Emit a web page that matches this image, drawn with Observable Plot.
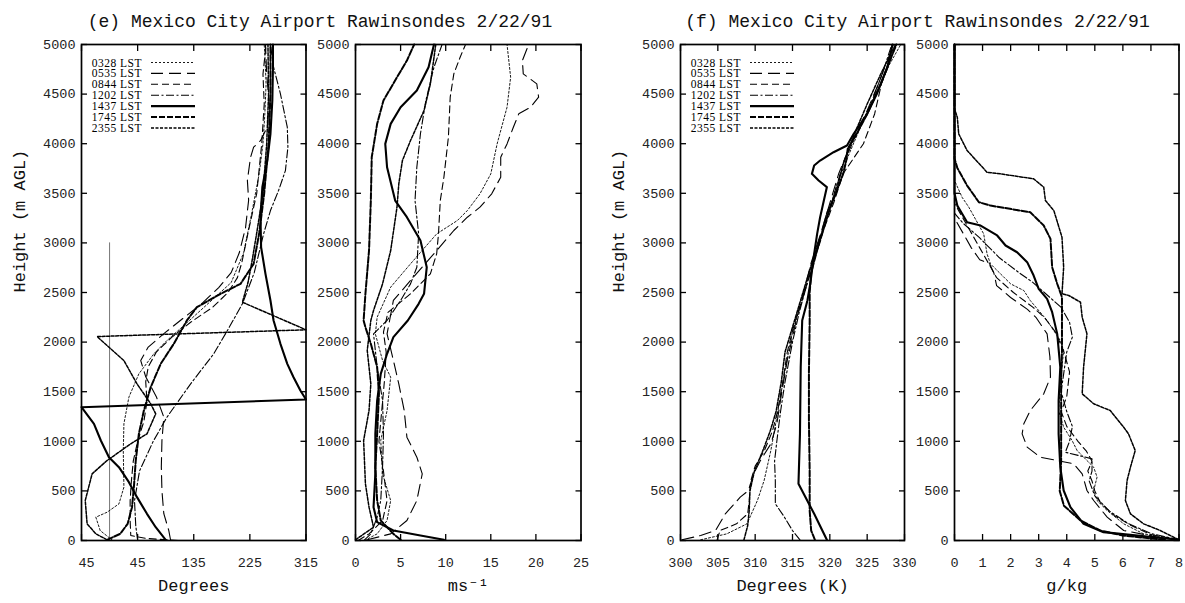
<!DOCTYPE html>
<html><head><meta charset="utf-8">
<script src="https://cdn.jsdelivr.net/npm/d3@7"></script>
<script src="https://cdn.jsdelivr.net/npm/@observablehq/plot@0.6"></script>
<style>
body{margin:0;background:#fff;}
#chart{position:relative;width:1185px;height:603px;overflow:hidden;background:#fff}
</style></head><body><div id="chart"></div>
<script>
// ---------- data: [height m AGL, value] ----------
const times = ["0328 LST","0535 LST","0844 LST","1202 LST","1437 LST","1745 LST","2355 LST"];

// wind direction (degrees)
const dir0328 = [[0,5],[100,-15],[235,-22],[285,-4],[369,15],[537,23],[907,22],[1176,23],[1445,31],[1680,47],[1882,71],[2016,92],[2200,125],[2400,160],[2600,195],[2900,215],[3300,228],[3700,240],[4000,246],[4300,249],[4600,251],[4900,249],[5000,248]];
const dir0535 = [[0,98],[100,95],[270,87],[500,84],[740,83],[1010,84],[1243,87],[1450,75],[1650,58],[1814,50],[1950,62],[2100,90],[2250,120],[2400,150],[2550,175],[2700,195],[2900,208],[3150,218],[3430,223],[3630,221],[3860,226],[3965,231],[4030,242],[4170,253],[4400,256],[4700,252],[5000,250]];
const dir0844 = [[0,110],[20,60],[50,34],[200,33],[400,33],[600,35],[800,38],[1000,45],[1200,55],[1400,60],[1600,58],[1750,62],[1900,75],[2050,100],[2200,130],[2350,165],[2500,190],[2650,205],[2800,212],[3100,222],[3500,236],[4000,244],[4400,248],[4700,246],[5000,251]];
const dir1202 = [[0,45],[150,42],[400,40],[700,48],[1000,70],[1243,92],[1579,130],[1882,167],[2117,189],[2386,213],[2700,232],[3091,247],[3326,258],[3528,271],[3729,282],[3965,286],[4166,285],[4503,274],[4771,263],[5000,258]];
const dir1437 = [[7,90],[134,74],[269,60],[437,44],[588,31],[739,15],[840,-1],[1008,-14],[1176,-25],[1344,-45],[1421,315],[1512,306],[1646,295],[1781,285],[1983,274],[2218,263],[2419,258],[2688,250],[2957,243],[3259,242],[3561,245],[3830,253],[4100,258],[4435,261],[4771,262],[5000,262]];
const dir1745 = [[7,-4],[67,17],[168,29],[336,36],[537,39],[806,42],[1075,47],[1310,55],[1546,66],[1781,82],[1983,103],[2218,124],[2352,140],[2487,178],[2587,210],[2789,231],[3100,240],[3500,248],[4000,255],[4500,258],[5000,258]];
const dir2355 = [[7,-4],[67,-22],[168,-36],[403,-39],[672,-28],[806,-4],[975,34],[1075,60],[1277,74],[1378,66],[1579,44],[1814,23],[2056,-20],[2124,315],[2402,213],[2600,222],[2800,228],[3100,236],[3500,246],[4000,252],[4500,255],[5000,254]];

// wind speed (m/s)
const spd0328 = [[0,1.0],[67,2.4],[202,3.5],[403,3.9],[672,3.0],[1008,2.8],[1310,3.5],[1646,3.9],[1815,3.0],[2083,2.2],[2251,2.4],[2554,3.9],[2789,6.1],[3091,9.0],[3226,11.3],[3326,12.4],[3495,13.8],[3696,15.0],[3998,15.7],[4368,16.8],[4670,17.2],[5000,16.8]];
const spd0535 = [[7,1.3],[67,3.9],[202,5.7],[403,6.8],[672,7.4],[840,6.8],[1042,5.7],[1310,5.4],[1579,4.8],[1815,4.2],[2083,3.5],[2420,4.2],[2621,6.1],[2923,9.0],[3125,10.9],[3259,12.4],[3360,13.8],[3495,15.1],[3662,16.1],[3864,16.1],[3998,16.8],[4166,17.5],[4301,18.1],[4368,19.4],[4469,20.3],[4603,20.1],[4704,18.6],[4838,18.5],[5000,19.2]];
const spd0844 = [[0,0.3],[67,1.5],[200,3.0],[400,3.5],[700,3.1],[1000,2.6],[1300,2.9],[1600,3.2],[1900,3.4],[2100,3.1],[2300,3.6],[2487,6.1],[2688,8.3],[2890,9.0],[3091,9.2],[3427,9.4],[3662,9.8],[4066,10.3],[4469,10.5],[4704,10.9],[4872,11.6],[5000,12.2]];
const spd1202 = [[7,1.0],[67,1.7],[235,2.4],[403,2.8],[739,3.0],[1075,3.1],[1411,3.0],[1748,2.4],[2083,2.0],[2218,3.5],[2420,5.0],[2587,6.1],[2755,6.8],[3091,7.0],[3427,6.6],[3763,6.8],[4100,7.2],[4435,7.8],[4771,8.7],[5000,9.6]];
const spd1437 = [[7,9.8],[50,7.2],[101,4.2],[185,2.4],[336,2.0],[672,2.2],[1075,2.2],[1411,2.4],[1680,2.8],[1882,3.5],[2050,4.2],[2218,5.8],[2386,7.0],[2487,7.6],[2755,7.9],[3024,7.2],[3259,5.7],[3427,4.4],[3763,3.5],[3998,3.3],[4200,3.9],[4368,5.0],[4536,6.8],[4771,8.1],[5000,8.7]];
const spd1745 = [[7,5.0],[67,4.2],[202,2.8],[403,2.4],[739,2.2],[1075,2.4],[1479,2.6],[1748,2.4],[1983,1.7],[2150,1.1],[2218,0.9],[2487,1.1],[2923,1.5],[3427,1.7],[3864,1.8],[4200,2.4],[4435,3.1],[4670,4.6],[4838,5.7],[5000,6.5]];
const spd2355 = [[7,0.0],[134,2.0],[336,1.5],[571,1.1],[1008,0.9],[1310,1.5],[1579,1.7],[1916,1.3],[2218,1.7],[2319,2.0],[2587,3.0],[2923,3.9],[3360,4.6],[3595,4.8],[3830,5.2],[4032,6.1],[4335,7.6],[4603,8.3],[5000,8.9]];

// potential temperature (K)
const th0328 = [[7,302.7],[67,306.2],[168,308.9],[403,310.3],[605,311.2],[907,312.1],[1200,312.8],[1500,313.5],[1800,314.2],[2100,315.0],[2400,316.2],[2700,317.3],[3000,318.6],[3300,319.8],[3600,321.0],[3900,322.6],[4200,324.3],[4500,326.2],[4800,328.0],[5000,329.5]];
const th0535 = [[7,300.2],[50,302.7],[101,304.7],[269,306],[437,308],[504,309.1],[672,309.8],[806,310.7],[974,312.1],[1176,312.9],[1512,313.6],[1815,314.3],[2050,315],[2251,315.6],[2500,316.5],[2800,317.5],[3100,318.8],[3400,320.0],[3700,321.2],[4000,322.8],[4300,324.8],[4600,326.5],[4800,327.5],[5000,328.6]];
const th0844 = [[7,304.9],[101,305.3],[168,307.5],[269,309.0],[400,309.2],[600,309.4],[750,310.0],[900,311.2],[1100,312.3],[1300,313.0],[1600,313.7],[1900,314.3],[2200,315.3],[2500,316.6],[2800,317.8],[3100,319.0],[3400,320.5],[3700,321.8],[4000,324.5],[4300,326.0],[4600,326.9],[5000,328.9]];
const th1202 = [[7,316],[100,315],[250,313.8],[370,312.7],[600,312.7],[800,312.6],[1000,312.9],[1300,313.4],[1600,314.0],[2000,315.0],[2300,315.9],[2600,317.0],[2900,318.2],[3200,319.4],[3500,320.6],[3800,321.8],[4100,323.6],[4400,325.5],[4700,327.0],[5000,328.3]];
const th1437 = [[7,319.6],[269,317.9],[571,315.8],[1075,316.0],[1748,316.1],[2218,316.3],[2419,317.0],[2600,317.4],[2890,317.9],[3091,318.3],[3259,318.7],[3427,319.2],[3562,319.6],[3629,318.5],[3696,317.6],[3780,317.9],[3830,318.7],[3914,320.5],[3982,322.3],[4100,323.2],[4200,324.1],[4301,325.0],[4503,326.3],[4771,327.7],[5000,328.4]];
const th1745 = [[7,318.0],[100,317.5],[300,317.3],[700,317.3],[1200,317.2],[1700,317.2],[2200,317.3],[2500,317.3],[2700,317.5],[2900,318.2],[3100,319.0],[3300,319.8],[3500,320.8],[3700,321.8],[3830,322.2],[3950,322.4],[4100,323.6],[4300,325.0],[4600,326.8],[5000,328.9]];
const th2355 = [[7,308.5],[150,309.0],[300,309.2],[500,309.3],[700,309.9],[900,311.0],[1100,312.0],[1300,312.8],[1600,313.5],[1900,314.0],[2200,315.2],[2500,316.4],[2800,317.6],[3100,318.9],[3300,319.6],[3500,320.8],[3800,321.8],[4100,323.3],[4400,325.0],[4700,326.8],[5000,328.8]];

// mixing ratio (g/kg)
const q0328 = [[7,8.0],[67,6.74],[168,6.03],[302,5.44],[403,5.08],[504,4.96],[639,5.08],[739,4.96],[806,4.72],[907,4.37],[1008,4.19],[1142,3.89],[1310,3.71],[1579,3.77],[1916,3.89],[2016,3.77],[2218,3.3],[2419,2.7],[2520,2.47],[2587,2.0],[2688,1.64],[2789,1.28],[2890,1.16],[3091,1.04],[3360,0.51],[3460,0.27],[3630,0],[5000,0]];
const q0535 = [[7,8.0],[34,7.22],[101,6.03],[235,5.44],[403,4.96],[504,4.72],[672,4.55],[773,4.25],[806,3.66],[840,3.06],[941,2.59],[1075,2.41],[1176,2.47],[1310,2.7],[1479,3.18],[1646,3.42],[1850,3.4],[2083,3.3],[2250,2.9],[2330,2.6],[2450,2.0],[2570,1.5],[2700,1.4],[2790,1.25],[2830,0.9],[2950,0.6],[3100,0.3],[3250,0],[5000,0]];
const q0844 = [[7,8.0],[60,7.0],[150,6.3],[250,5.7],[380,5.2],[500,5.0],[600,4.9],[700,4.75],[800,4.9],[900,4.7],[1000,4.4],[1150,4.0],[1300,3.8],[1450,4.0],[1700,4.1],[1900,3.9],[2100,3.6],[2250,3.2],[2350,2.8],[2500,2.1],[2650,1.5],[2800,1.2],[2950,0.9],[3150,0.5],[3300,0.2],[3400,0],[5000,0]];
const q1202 = [[7,8.0],[70,7.0],[170,6.2],[300,5.5],[450,5.0],[600,4.8],[700,4.9],[823,4.9],[890,3.95],[1000,4.1],[1150,4.2],[1300,4.0],[1500,3.8],[1700,3.9],[1900,4.0],[2050,4.2],[2200,4.1],[2350,3.8],[2500,3.2],[2600,2.8],[2700,2.3],[2850,1.6],[3050,0.9],[3200,0.3],[3300,0],[5000,0]];
const q1437 = [[7,8.0],[84,5.31],[168,4.6],[336,4.13],[504,3.89],[739,3.77],[1075,3.71],[1411,3.71],[1748,3.77],[2083,3.66],[2302,3.48],[2436,3.3],[2537,3.0],[2671,2.82],[2806,2.59],[2906,2.23],[2974,1.82],[3075,1.52],[3175,0.93],[3209,0.45],[3376,0.1],[3500,0],[5000,0]];
const q1745 = [[7,7.5],[50,6.0],[100,5.2],[200,4.5],[350,3.9],[500,3.75],[800,3.8],[1200,3.8],[1600,3.8],[1916,3.83],[2453,3.83],[2588,3.66],[2755,3.48],[3041,3.42],[3175,3.18],[3309,2.7],[3376,1.28],[3410,0.87],[3578,0.45],[3756,0.1],[3850,0],[5000,0]];
const q2355 = [[7,8.0],[101,7.33],[168,6.74],[269,6.27],[403,6.09],[605,6.15],[739,6.27],[907,6.44],[1075,6.2],[1142,6.03],[1310,5.55],[1378,4.96],[1479,4.55],[1748,4.6],[2083,4.72],[2251,4.55],[2402,4.49],[2470,4.07],[2487,3.83],[2755,3.89],[3058,3.83],[3326,3.54],[3427,3.24],[3562,3.18],[3646,2.82],[3696,1.64],[3712,1.16],[3931,0.45],[4099,0.15],[4267,0.1],[4350,0],[5000,0]];

// reference line (0 degrees, surface to 3000 m)
const refLine = [{deg: 0, h0: 0, h1: 3000}];

// ticks and labels
const heightTicks = [0,500,1000,1500,2000,2500,3000,3500,4000,4500,5000];
const dirTicks = [-45,45,135,225,315];
const dirTickText = ["45","45","135","225","315"];
const spdTicks = [0,5,10,15,20,25];
const thTicks = [300,305,310,315,320,325,330];
const qTicks = [0,1,2,3,4,5,6,7,8];
const titleE = "(e)  Mexico City Airport Rawinsondes 2/22/91";
const titleF = "(f)  Mexico City Airport Rawinsondes 2/22/91";
const yLabel = "Height (m AGL)";

// ---------- styles ----------
const lineStyle = [
  {dash: "2,2", w: 0.9},
  {dash: "12,6", w: 1.1},
  {dash: "7,4", w: 1.1},
  {dash: "8,2.5,2,2.5", w: 1.1},
  {dash: undefined, w: 2.1},
  {dash: "6,2", w: 2.0},
  {dash: "3,1.5", w: 1.5}
];
const MONO = '"Liberation Mono", monospace';
const chart = document.getElementById("chart");

const panels = [
  {series:[dir0328,dir0535,dir0844,dir1202,dir1437,dir1745,dir2355], left:81, right:305.5, domain:[-45,315], ticks:dirTicks, fmt:d => dirTickText[dirTicks.indexOf(d)], xLabel:"Degrees", yLabel:yLabel, ref:refLine, legend:true},
  {series:[spd0328,spd0535,spd0844,spd1202,spd1437,spd1745,spd2355], left:355, right:580.5, domain:[0,25], ticks:spdTicks, fmt:d => String(d), xLabel:"ms\u207B\u00B9"},
  {series:[th0328,th0535,th0844,th1202,th1437,th1745,th2355], left:680, right:904, domain:[300,330], ticks:thTicks, fmt:d => String(d), xLabel:"Degrees (K)", yLabel:yLabel, legend:true},
  {series:[q0328,q0535,q0844,q1202,q1437,q1745,q2355], left:954, right:1178.5, domain:[0,8], ticks:qTicks, fmt:d => String(d), xLabel:"g/kg"}
];

function makePanel(p) {
  const ML = 72, MR = 8, W = p.right - p.left;
  const marks = [];
  if (p.ref) marks.push(Plot.ruleX(p.ref, {x:"deg", y1:"h0", y2:"h1", stroke:"#777", strokeWidth:1}));
  p.series.forEach((s, i) => marks.push(Plot.line(s, {
    x: d => d[1], y: d => d[0], stroke:"#000",
    strokeWidth: lineStyle[i].w, strokeDasharray: lineStyle[i].dash, strokeLinejoin:"round"
  })));
  const blank = () => "";
  marks.push(
    Plot.axisX(p.ticks, {anchor:"bottom", tickSize:6, dy:-6, tickFormat:blank, label:null, strokeWidth:1.3}),
    Plot.axisX(p.ticks, {anchor:"top", tickSize:6, dy:6, tickFormat:blank, label:null, strokeWidth:1.3}),
    Plot.axisY(heightTicks, {anchor:"left", tickSize:6, dx:6, tickFormat:blank, label:null, strokeWidth:1.3}),
    Plot.axisY(heightTicks, {anchor:"right", tickSize:6, dx:-6, tickFormat:blank, label:null, strokeWidth:1.3}),
    Plot.axisY(heightTicks, {anchor:"left", tickSize:0, tickPadding:6, tickFormat:d => String(d), label:null, fontSize:13.5, fill:"#222"}),
    Plot.text([p.xLabel], {text:d => d, frameAnchor:"bottom", dy:50, fontSize:17, fill:"#111"}),
    Plot.frame({stroke:"#000", strokeWidth:1.7})
  );
  if (p.domain[0] === -45) {
    marks.push(Plot.axisX(p.ticks.slice(1), {anchor:"bottom", tickSize:0, tickPadding:17, tickFormat:p.fmt, label:null, fontSize:13.5, fill:"#222"}));
    marks.push(Plot.axisX(p.ticks.slice(0,1), {anchor:"bottom", tickSize:0, tickPadding:17, dx:5, tickFormat:p.fmt, label:null, fontSize:13.5, fill:"#222"}));
  } else {
    marks.push(Plot.axisX(p.ticks, {anchor:"bottom", tickSize:0, tickPadding:17, tickFormat:p.fmt, label:null, fontSize:13.5, fill:"#222"}));
  }
  if (p.yLabel) marks.push(Plot.text([p.yLabel], {text:d => d, frameAnchor:"left", dx:-62, rotate:-90, fontSize:17, fill:"#111"}));
  const svg = Plot.plot({
    width: ML + W + MR, height: 603,
    marginLeft: ML, marginRight: MR, marginTop: 44, marginBottom: 63,
    x: {domain: p.domain, axis: null},
    y: {domain: [0, 5000], axis: null},
    style: {background: "transparent", fontFamily: MONO, color: "#000", overflow: "visible"},
    marks
  });
  svg.style.position = "absolute";
  svg.style.left = (p.left - ML) + "px";
  svg.style.top = "0px";
  svg.style.maxWidth = "none";
  chart.append(svg);
}
panels.forEach(makePanel);

// ---------- overlay: titles and in-frame legends ----------
const ov = d3.select(chart).append("svg")
  .attr("width", 1185).attr("height", 603)
  .style("position", "absolute").style("left", "0px").style("top", "0px")
  .style("pointer-events", "none");
[[titleE, 320], [titleF, 917.5]].forEach(([t, cx]) => {
  ov.append("text").attr("x", cx).attr("y", 27).attr("text-anchor", "middle")
    .style("font-family", MONO).style("font-size", "18px").attr("fill", "#111").text(t);
});
panels.filter(p => p.legend).forEach(p => {
  times.forEach((t, i) => {
    const y = 62.5 + i * 10.9;
    ov.append("text").attr("x", p.left + 10.7).attr("y", y).attr("dy", "0.35em")
      .style("font-family", '"Liberation Serif", serif').style("font-size", "11.5px")
      .style("letter-spacing", "0.5px").attr("fill", "#000").text(t);
    ov.append("line").attr("x1", p.left + 70).attr("x2", p.left + 114).attr("y1", y).attr("y2", y)
      .attr("stroke", "#000").attr("stroke-width", lineStyle[i].w)
      .attr("stroke-dasharray", lineStyle[i].dash || null);
  });
});
</script></body></html>
